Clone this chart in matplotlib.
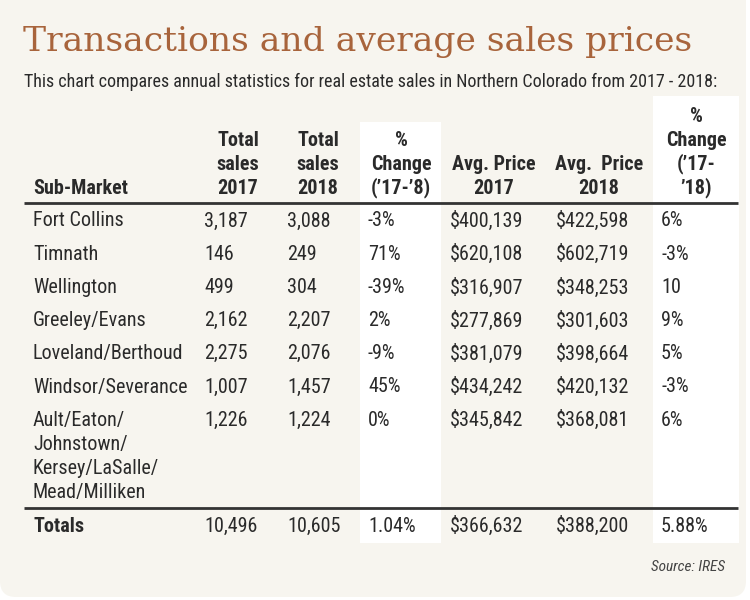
import matplotlib
matplotlib.use("Agg")
import matplotlib.pyplot as plt
from matplotlib import font_manager
from matplotlib.patches import FancyBboxPatch, Rectangle

# --- data ---
sub_markets = ["Fort Collins", "Timnath", "Wellington", "Greeley/Evans",
               "Loveland/Berthoud", "Windsor/Severance",
               "Ault/Eaton/\nJohnstown/\nKersey/LaSalle/\nMead/Milliken"]
sales_2017 = [3187, 146, 499, 2162, 2275, 1007, 1226]
sales_2018 = [3088, 249, 304, 2207, 2076, 1457, 1224]
sales_change = ["-3%", "71%", "-39%", "2%", "-9%", "45%", "0%"]
price_2017 = [400139, 620108, 316907, 277869, 381079, 434242, 345842]
price_2018 = [422598, 602719, 348253, 301603, 398664, 420132, 368081]
price_change = ["6%", "-3%", "10", "9%", "5%", "-3%", "6%"]
totals = ["Totals", "10,496", "10,605", "1.04%", "$366,632", "$388,200", "5.88%"]

headers = ["Sub-Market", "Total\nsales\n2017", "Total\nsales\n2018",
           "%\nChange\n(\u201917-\u20198)", "Avg. Price\n2017", "Avg.  Price\n2018",
           "%\nChange\n(\u201917-\n\u201918)"]

title = "Transactions and average sales prices"
subtitle = ("This chart compares annual statistics for real estate sales "
            "in Northern Colorado from 2017 - 2018:")
source = "Source: IRES"

# --- style ---
BG = "#f7f5ef"
TITLE_C = "#a8643c"
TEXT_C = "#2a2a2a"


def pick_font(names):
    have = {f.name for f in font_manager.fontManager.ttflist}
    for n in names:
        if n in have:
            return n
    return "DejaVu Sans"


body_font = pick_font(["Liberation Sans Narrow", "DejaVu Sans Condensed", "Roboto Condensed", "DejaVu Sans"])
title_font = pick_font(["DejaVu Serif", "Liberation Serif"])

fig = plt.figure(figsize=(7.5, 6), dpi=100)
fig.patch.set_facecolor("white")
ax = fig.add_axes([0, 0, 1, 1])
ax.set_xlim(0, 750)
ax.set_ylim(600, 0)
ax.axis("off")

# rounded panel
ax.add_patch(FancyBboxPatch((0, -40), 746, 637, boxstyle="round,pad=0,rounding_size=16",
                            facecolor=BG, edgecolor="none", zorder=0))

# white stripes behind the % change columns
ax.add_patch(Rectangle((360, 122), 81, 421, facecolor="white", edgecolor="none", zorder=1))
ax.add_patch(Rectangle((653, 96), 86, 447, facecolor="white", edgecolor="none", zorder=1))

ax.text(23, 51, title, family=title_font, fontsize=24.8, color=TITLE_C, va="baseline", ha="left")
ax.text(24, 87, subtitle, family=body_font, fontsize=13, color=TEXT_C, va="baseline", ha="left")

# column layout
col_left = [33, 204, 287, 368, 450, 556, 661]
col_center = [None, 238, 318, 401, 494, 599, 696]
FS = 14.5
LINE = 24

# header
for i, h in enumerate(headers):
    lines = h.split("\n")
    for k, ln in enumerate(reversed(lines)):
        y = 188 - LINE * k
        if i == 0:
            ax.text(col_left[0], y, ln, family=body_font, fontsize=FS, fontweight="bold",
                    color=TEXT_C, ha="left", va="center", zorder=3)
        else:
            ax.text(col_center[i], y, ln, family=body_font, fontsize=FS, fontweight="bold",
                    color=TEXT_C, ha="center", va="center", zorder=3)

ax.plot([24, 738], [203, 203], color="#333333", lw=2, solid_capstyle="butt", zorder=3)

# body rows
row_y = [221 + 33.2 * i for i in range(len(sub_markets))]
for r in range(len(sub_markets)):
    cells = [sub_markets[r], f"{sales_2017[r]:,}", f"{sales_2018[r]:,}", sales_change[r],
             f"${price_2017[r]:,}", f"${price_2018[r]:,}", price_change[r]]
    for c, val in enumerate(cells):
        for k, ln in enumerate(val.split("\n")):
            ax.text(col_left[c], row_y[r] + LINE * k, ln, family=body_font, fontsize=FS,
                    color=TEXT_C, ha="left", va="center", zorder=3)

ax.plot([24, 738], [508, 508], color="#333333", lw=2, solid_capstyle="butt", zorder=3)

for c, val in enumerate(totals):
    ax.text(col_left[c], 526, val, family=body_font, fontsize=FS,
            fontweight="bold" if c == 0 else "normal",
            color=TEXT_C, ha="left", va="center", zorder=3)

ax.text(725, 567, source, family=body_font, fontsize=11, style="italic",
        color="#444444", ha="right", va="center", zorder=3)

fig.savefig("out.png", dpi=100, facecolor=fig.get_facecolor())
